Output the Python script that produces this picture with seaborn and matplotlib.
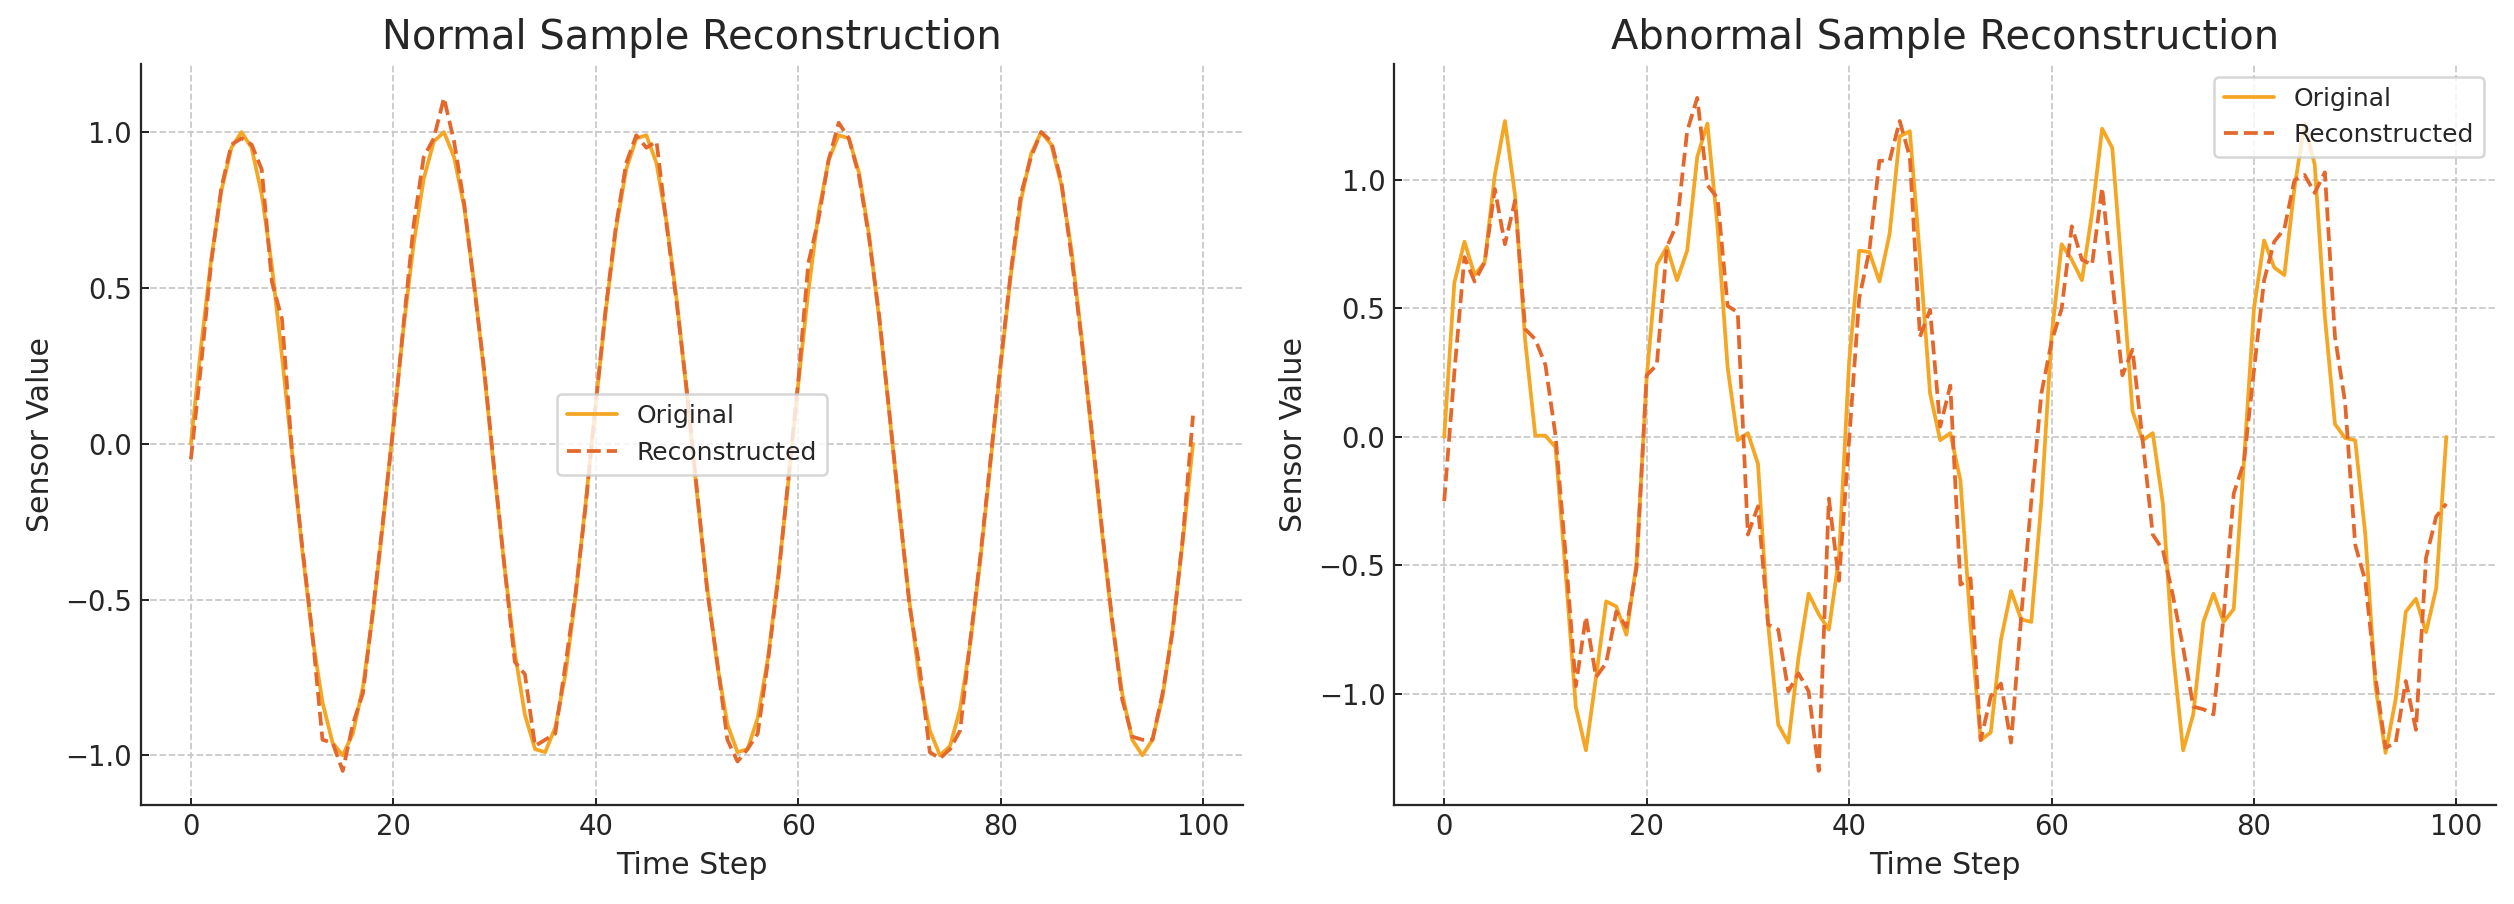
import numpy as np
import pandas as pd
import seaborn as sns
import matplotlib.pyplot as plt

# Time axis
time_steps = list(range(100))

# Normal sample
normal_original = [
    0.0, 0.31, 0.59, 0.81, 0.95, 1.0, 0.95, 0.8, 0.57, 0.28,
    -0.03, -0.34, -0.62, -0.83, -0.96, -1.0, -0.93, -0.78, -0.54, -0.25,
    0.06, 0.37, 0.64, 0.85, 0.97, 1.0, 0.92, 0.76, 0.51, 0.22,
    -0.1, -0.4, -0.67, -0.87, -0.98, -0.99, -0.91, -0.74, -0.49, -0.19,
    0.13, 0.43, 0.69, 0.88, 0.98, 0.99, 0.9, 0.71, 0.46, 0.16,
    -0.16, -0.46, -0.71, -0.9, -0.99, -0.98, -0.88, -0.69, -0.43, -0.13,
    0.19, 0.49, 0.74, 0.91, 0.99, 0.98, 0.87, 0.67, 0.4, 0.1,
    -0.22, -0.51, -0.76, -0.92, -1.0, -0.97, -0.85, -0.64, -0.37, -0.06,
    0.25, 0.54, 0.78, 0.93, 1.0, 0.96, 0.83, 0.62, 0.34, 0.03,
    -0.28, -0.57, -0.8, -0.95, -1.0, -0.95, -0.81, -0.59, -0.31, 0.0,
]
normal_reconstructed = [
    -0.05, 0.25, 0.58, 0.82, 0.96, 0.98, 0.96, 0.88, 0.52, 0.40,
    -0.03, -0.33, -0.61, -0.95, -0.96, -1.05, -0.9, -0.8, -0.53, -0.24,
    0.05, 0.38, 0.7, 0.92, 0.98, 1.11, 0.97, 0.77, 0.5, 0.23,
    -0.09, -0.4, -0.7, -0.74, -0.97, -0.95, -0.93, -0.71, -0.48, -0.2,
    0.13, 0.44, 0.7, 0.9, 0.99, 0.95, 0.97, 0.7, 0.45, 0.17,
    -0.15, -0.47, -0.7, -0.95, -1.02, -0.98, -0.93, -0.7, -0.44, -0.12,
    0.2, 0.58, 0.72, 0.91, 1.03, 0.98, 0.86, 0.66, 0.41, 0.1,
    -0.21, -0.52, -0.72, -0.99, -1.01, -0.98, -0.92, -0.63, -0.36, -0.05,
    0.26, 0.55, 0.8, 0.92, 1.0, 0.97, 0.84, 0.6, 0.33, 0.04,
    -0.27, -0.56, -0.82, -0.94, -0.95, -0.95, -0.8, -0.6, -0.3, 0.09,
]

# Abnormal sample
abnormal_original = [
    0.0, 0.60, 0.76, 0.63, 0.68, 1.02, 1.23, 0.94, 0.375, 0.005,
    0.005, -0.04, -0.53, -1.05, -1.22, -0.935, -0.64, -0.66, -0.77, -0.49,
    0.23, 0.67, 0.74, 0.61, 0.725, 1.09, 1.22, 0.82, 0.27, -0.013,
    0.015, -0.105, -0.73, -1.12, -1.19, -0.86, -0.61, -0.69, -0.75, -0.47,
    0.29, 0.725, 0.72, 0.605, 0.79, 1.17, 1.19, 0.70, 0.17, -0.013,
    0.015, -0.17, -0.73, -1.18, -1.15, -0.79, -0.60, -0.71, -0.72, -0.25,
    0.39, 0.75, 0.69, 0.61, 0.87, 1.20, 1.125, 0.62, 0.10, -0.013,
    0.015, -0.26, -0.84, -1.22, -1.08, -0.72, -0.61, -0.72, -0.67, -0.10,
    0.50, 0.765, 0.66, 0.63, 0.97, 1.22, 1.06, 0.47, 0.05, -0.004,
    -0.013, -0.38, -0.97, -1.23, -1.02, -0.68, -0.63, -0.76, -0.59, 0.0,
]
abnormal_reconstructed = [
    -0.25, 0.25, 0.70, 0.605, 0.68, 0.965, 0.75, 0.92, 0.42, 0.38,
    0.28, 0.005, -0.46, -0.97, -0.70, -0.935, -0.88, -0.68, -0.74, -0.51,
    0.24, 0.28, 0.74, 0.83, 1.19, 1.32, 0.98, 0.93, 0.51, 0.485,
    -0.38, -0.27, -0.73, -0.75, -0.99, -0.92, -0.99, -1.30, -0.24, -0.56,
    -0.013, 0.54, 0.725, 1.075, 1.075, 1.23, 1.09, 0.39, 0.495, 0.04,
    0.20, -0.575, -0.55, -1.18, -1.01, -0.96, -1.19, -0.70, -0.25, 0.17,
    0.37, 0.50, 0.82, 0.69, 0.67, 0.97, 0.605, 0.24, 0.34, -0.013,
    -0.38, -0.44, -0.62, -0.82, -1.05, -1.06, -1.08, -0.70, -0.22, -0.10,
    0.26, 0.61, 0.76, 0.81, 1.00, 1.02, 0.95, 1.03, 0.39, 0.135,
    -0.42, -0.56, -0.935, -1.21, -1.19, -0.95, -1.14, -0.47, -0.31, -0.26,
]

ORIG_COLOR = "#F5A623"
RECON_COLOR = "#E4682C"

sns.set_style("ticks")
plt.rcParams["font.family"] = ["DejaVu Sans"]

fig, axes = plt.subplots(1, 2, figsize=(2514 / 180, 904 / 180), dpi=180)
fig.subplots_adjust(left=0.056, right=0.993, bottom=0.110, top=0.929, wspace=0.137)

panels = [
    (axes[0], normal_original, normal_reconstructed, "Normal Sample Reconstruction", "center"),
    (axes[1], abnormal_original, abnormal_reconstructed, "Abnormal Sample Reconstruction", "upper right"),
]

for ax, orig, recon, title, legend_loc in panels:
    sns.lineplot(x=time_steps, y=orig, ax=ax, color=ORIG_COLOR, linewidth=1.5, label="Original")
    sns.lineplot(x=time_steps, y=recon, ax=ax, color=RECON_COLOR, linewidth=1.5,
                 linestyle="--", label="Reconstructed")
    ax.set_title(title, fontsize=16)
    ax.set_xlabel("Time Step", fontsize=12)
    ax.set_ylabel("Sensor Value", fontsize=12)
    ax.grid(True, linestyle="--", color="#c8c8c8", linewidth=0.7)
    ax.tick_params(direction="in", labelsize=11, length=3, width=0.8)
    ax.set_xticks([0, 20, 40, 60, 80, 100])
    for side in ["top", "right"]:
        ax.spines[side].set_visible(False)
    for side in ["left", "bottom"]:
        ax.spines[side].set_linewidth(0.9)
    ax.legend(loc=legend_loc, fontsize=10)

fig.savefig("out.png", dpi=180)
